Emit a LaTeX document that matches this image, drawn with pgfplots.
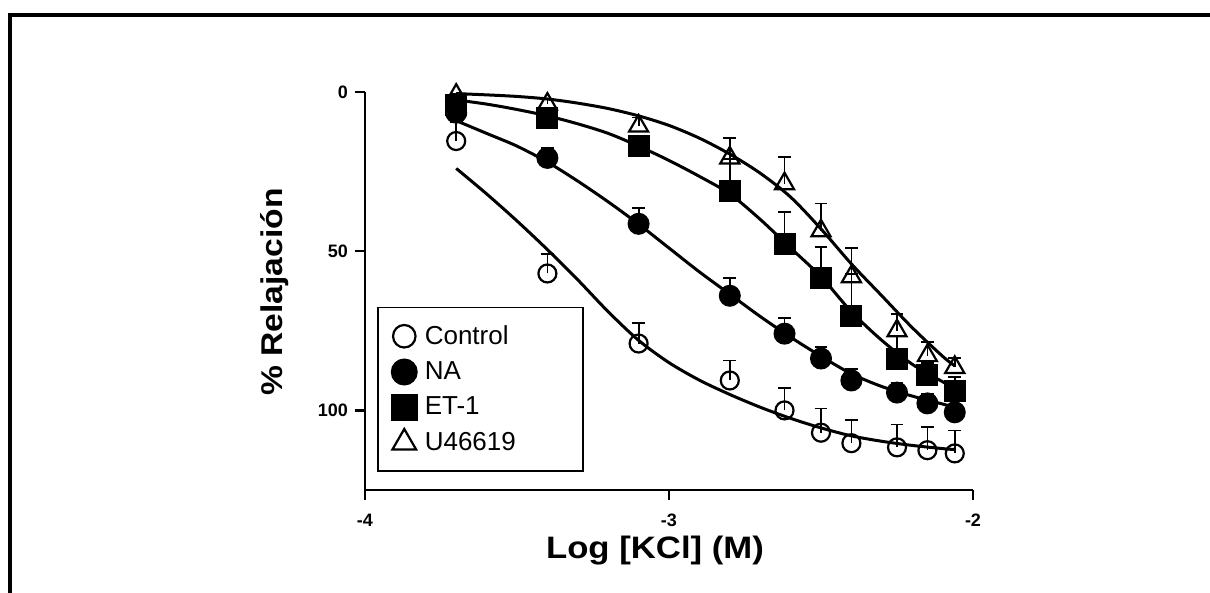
\documentclass[border=0pt]{standalone}
\usepackage{fontspec}
\setmainfont{Liberation Sans}
\usepackage{pgfplots}
\pgfplotsset{compat=1.18}

\begin{document}
\begin{tikzpicture}
% picture frame: 1px = 0.5pt, axis corner (-4,125) at pixel (365,490)
\path[use as bounding box] (-182.5pt,-51.5pt) rectangle (422.5pt,245pt);
\draw[line width=1.8pt] (-177.5pt,-51.5pt) -- (-177.5pt,237.5pt) -- (422.5pt,237.5pt);

\begin{axis}[
    scale only axis,
    width=304pt, height=199pt,
    xmin=-4, xmax=-2,
    ymin=0, ymax=125,
    y dir=reverse,
    clip=false,
    axis x line*=bottom,
    axis y line*=left,
    axis line style={line width=1.2pt},
    tick align=outside,
    major tick length=5pt,
    tick style={line width=1.1pt, black},
    xtick={-4,-3,-2},
    xticklabels={-4,-3,-2},
    ytick={0,50,100},
    yticklabels={0,50,100},
    tick label style={font=\bfseries\fontsize{9}{10}\selectfont},
    xticklabel style={yshift=-3.5pt},
    legend style={at={(0.0197,0.045)}, anchor=south west,
        draw=black, line width=0.8pt,
        font=\fontsize{13}{15}\selectfont,
        row sep=3.2pt, inner xsep=7pt, inner ysep=7pt,
        legend cell align=left},
    legend image post style={scale=1.25},
    error bars/y dir=minus,
    error bars/y explicit,
    error bars/error bar style={line width=0.9pt},
    error bars/error mark options={rotate=90, mark size=3.2pt, line width=0.9pt},
]
% measured points (mean, SEM)
\addplot[only marks, mark=o, mark size=4.5pt, line width=1.1pt,
    mark options={fill=white}] coordinates {
    (-3.7,15.4) +- (0,6)
    (-3.4,57) +- (0,6)
    (-3.1,79) +- (0,6.5)
    (-2.8,90.6) +- (0,6.3)
    (-2.62,100) +- (0,7)
    (-2.5,107) +- (0,7.6)
    (-2.4,110.3) +- (0,7.3)
    (-2.25,111.6) +- (0,7.2)
    (-2.15,112.5) +- (0,7.2)
    (-2.06,113.5) +- (0,7.2)
};
\addlegendentry{\hspace{2pt}\makebox[70pt][l]{Control}}
\addplot[only marks, mark=*, mark size=5pt, line width=1pt] coordinates {
    (-3.7,6.5) +- (0,1)
    (-3.4,20.7) +- (0,3)
    (-3.1,41.4) +- (0,5)
    (-2.8,64) +- (0,5.7)
    (-2.62,75.9) +- (0,5)
    (-2.5,83.7) +- (0,3.7)
    (-2.4,90.6) +- (0,3.6)
    (-2.25,94.4) +- (0,3)
    (-2.15,97.8) +- (0,3)
    (-2.06,100.6) +- (0,2)
};
\addlegendentry{\hspace{2pt}NA}
\addplot[only marks, mark=square*, mark size=5pt, line width=1pt] coordinates {
    (-3.7,4) +- (0,1)
    (-3.4,8.2) +- (0,2)
    (-3.1,17) +- (0,3)
    (-2.8,31) +- (0,10)
    (-2.62,47.7) +- (0,10)
    (-2.5,58.3) +- (0,9.5)
    (-2.4,70.2) +- (0,13)
    (-2.25,83.7) +- (0,7)
    (-2.15,89) +- (0,4)
    (-2.06,94) +- (0,4.5)
};
\addlegendentry{\hspace{2pt}ET-1}
\addplot[only marks, mark=triangle, mark size=5.5pt, line width=1.1pt,
    mark options={fill=white}] coordinates {
    (-3.7,1) +- (0,0.5)
    (-3.4,3.8) +- (0,1.5)
    (-3.1,10.7) +- (0,2.7)
    (-2.8,20.7) +- (0,6.3)
    (-2.62,28.8) +- (0,8.4)
    (-2.5,43.6) +- (0,8.6)
    (-2.4,58) +- (0,9)
    (-2.25,75) +- (0,5.4)
    (-2.15,82.8) +- (0,4.4)
    (-2.06,86.5) +- (0,3)
};
\addlegendentry{\hspace{2pt}U46619}

% fitted curves
\addplot[forget plot, smooth, no marks, line width=1.5pt] coordinates {
    (-3.7,24) (-3.6,32) (-3.5,40.5) (-3.4,49.5) (-3.3,59) (-3.2,69)
    (-3.1,78) (-3.0,85) (-2.9,90.5) (-2.8,95) (-2.7,99) (-2.6,102.5)
    (-2.5,105.5) (-2.4,108) (-2.3,109.7) (-2.2,111) (-2.1,112) (-2.06,112.3)
};
\addplot[forget plot, smooth, no marks, line width=1.5pt] coordinates {
    (-3.7,9) (-3.6,13) (-3.5,17) (-3.4,22) (-3.3,28) (-3.2,34.5)
    (-3.1,41.5) (-3.0,49) (-2.9,56.5) (-2.8,63.5) (-2.7,70.5) (-2.6,77)
    (-2.5,83) (-2.4,88.5) (-2.3,92.5) (-2.2,95.5) (-2.1,98) (-2.06,99)
};
\addplot[forget plot, smooth, no marks, line width=1.5pt] coordinates {
    (-3.7,2.5) (-3.6,3.8) (-3.5,5.5) (-3.4,7.5) (-3.3,10) (-3.2,13)
    (-3.1,17) (-3.0,21.5) (-2.9,26.5) (-2.8,32) (-2.7,40) (-2.6,49)
    (-2.5,58) (-2.4,69) (-2.3,78) (-2.2,85.5) (-2.1,91) (-2.06,93)
};
\addplot[forget plot, smooth, no marks, line width=1.5pt] coordinates {
    (-3.7,0.5) (-3.6,0.9) (-3.5,1.4) (-3.4,2.2) (-3.3,3.5) (-3.2,5.2)
    (-3.1,7.5) (-3.0,10.5) (-2.9,14.5) (-2.8,19.5) (-2.7,25.5) (-2.6,33)
    (-2.5,43) (-2.4,54) (-2.3,64) (-2.2,74) (-2.1,83) (-2.06,86)
};
\end{axis}

\node[rotate=90, font=\bfseries\fontsize{15}{18}\selectfont] at (-45pt,99pt)
    {\scalebox{1.12}[1]{\% Relajación}};
\node[font=\bfseries\fontsize{15.5}{18}\selectfont] at (145pt,-30.5pt)
    {\scalebox{1.12}[1]{Log [KCl] (M)}};
\end{tikzpicture}
\end{document}
